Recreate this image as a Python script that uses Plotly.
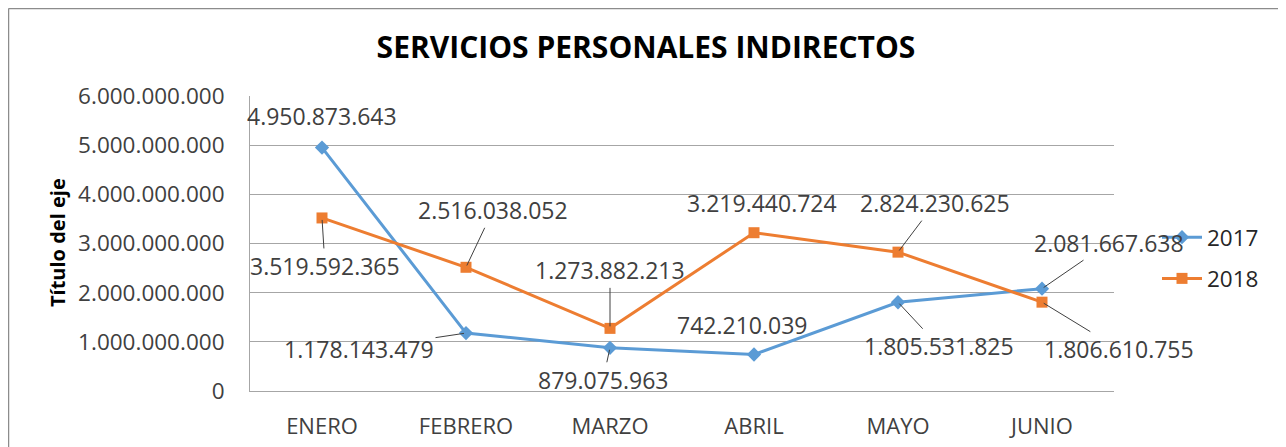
import plotly.graph_objects as go

months = ["ENERO", "FEBRERO", "MARZO", "ABRIL", "MAYO", "JUNIO"]
v2017 = [4950873643, 1178143479, 879075963, 742210039, 1805531825, 2081667638]
v2018 = [3519592365, 2516038052, 1273882213, 3219440724, 2824230625, 1806610755]
y_ticks = [0, 1000000000, 2000000000, 3000000000, 4000000000, 5000000000, 6000000000]

# label offsets (px) for each data label: (ax, ay, arrow)
off2017 = [(0, -32, False), (-107, 16, True), (-7, 32, True), (-12, -30, False), (41, 44, True), (67, -46, True)]
off2018 = [(3, 48, True), (27, -57, True), (0, -58, True), (8, -30, False), (37, -49, True), (77, 47, True)]

FONT = "Open Sans"
BLUE = "#5B9BD5"
ORANGE = "#ED7D31"
TXT = "#404040"
SH = 8  # page body margin offset

def fmt(v):
    return f"{v:,}".replace(",", ".")

fig = go.Figure()
fig.add_trace(go.Scatter(x=months, y=v2017, name="2017", mode="lines+markers",
                         line=dict(color=BLUE, width=3),
                         marker=dict(symbol="diamond", size=11, color=BLUE),
                         legendgroup="a"))
fig.add_trace(go.Scatter(x=months, y=v2018, name="2018", mode="lines+markers",
                         line=dict(color=ORANGE, width=3),
                         marker=dict(symbol="square", size=11, color=ORANGE),
                         legendgroup="b"))

LBL = dict(family=FONT, size=23, color=TXT)
annotations = []
for vals, offs in ((v2017, off2017), (v2018, off2018)):
    for m, v, (ax, ay, arrow) in zip(months, vals, offs):
        if arrow:
            annotations.append(dict(x=m, y=v, text=fmt(v), showarrow=True, ax=ax, ay=ay,
                                    arrowhead=0, arrowwidth=1, arrowcolor="#404040", standoff=2,
                                    font=LBL))
        else:
            annotations.append(dict(x=m, y=v, text=fmt(v), showarrow=False,
                                    xshift=ax, yshift=-ay, font=LBL))

# plot area in screen px
L, R, T, B = 250, 1114, 96, 391
def px(x):
    return (x - L) / (R - L)
def py(y):
    return (B - y) / (B - T)

annotations.append(dict(text="<b>Título del eje</b>", xref="paper", yref="paper",
                        x=px(57), y=py(243), textangle=-90,
                        showarrow=False, xanchor="center", yanchor="middle",
                        font=dict(family=FONT, size=20, color="#000000")))

shapes = [
    dict(type="line", xref="paper", yref="paper", x0=px(8.5), x1=px(8.5), y0=py(8.5), y1=py(470),
         line=dict(color="#8C8C8C", width=1.5)),
    dict(type="line", xref="paper", yref="paper", x0=px(8.5), x1=px(1284), y0=py(8.5), y1=py(8.5),
         line=dict(color="#8C8C8C", width=1.5)),
    dict(type="line", xref="paper", yref="paper", x0=px(1284), x1=px(1284), y0=py(8.5), y1=py(470),
         line=dict(color="#D9D9D9", width=1)),
]

W, H = 1286, 447
fig.update_layout(
    width=W, height=H,
    margin=dict(l=L - SH, r=W - (R - SH), t=T - SH, b=H - (B - SH)),
    paper_bgcolor="white", plot_bgcolor="white",
    separators=",.",
    title=dict(text="<b>SERVICIOS PERSONALES INDIRECTOS</b>", x=(646 - SH) / W, y=1 - (47 - SH) / H,
               xref="container", yref="container", xanchor="center", yanchor="middle",
               font=dict(family=FONT, size=30, color="#000000")),
    xaxis=dict(type="category", range=[-0.5, 5.5], showgrid=False, showline=True,
               linecolor="#A6A6A6", linewidth=1, ticks="", ticklabelstandoff=16,
               tickfont=dict(family=FONT, size=22, color=TXT), fixedrange=True),
    yaxis=dict(range=[0, 6000000000], tickvals=y_ticks, tickformat=",d",
               showgrid=True, gridcolor="#A6A6A6", gridwidth=1, zeroline=False,
               showline=True, linecolor="#A6A6A6", linewidth=1, ticks="",
               ticklabelstandoff=20, tickfont=dict(family=FONT, size=22.5, color=TXT)),
    legend=dict(x=px(1157), y=py(216), xanchor="left", yanchor="top",
                font=dict(family=FONT, size=22.5, color="#262626"), tracegroupgap=9,
                bgcolor="rgba(0,0,0,0)", itemwidth=40),
    showlegend=True,
    annotations=annotations,
    shapes=shapes,
)

fig.write_html("out.html")
